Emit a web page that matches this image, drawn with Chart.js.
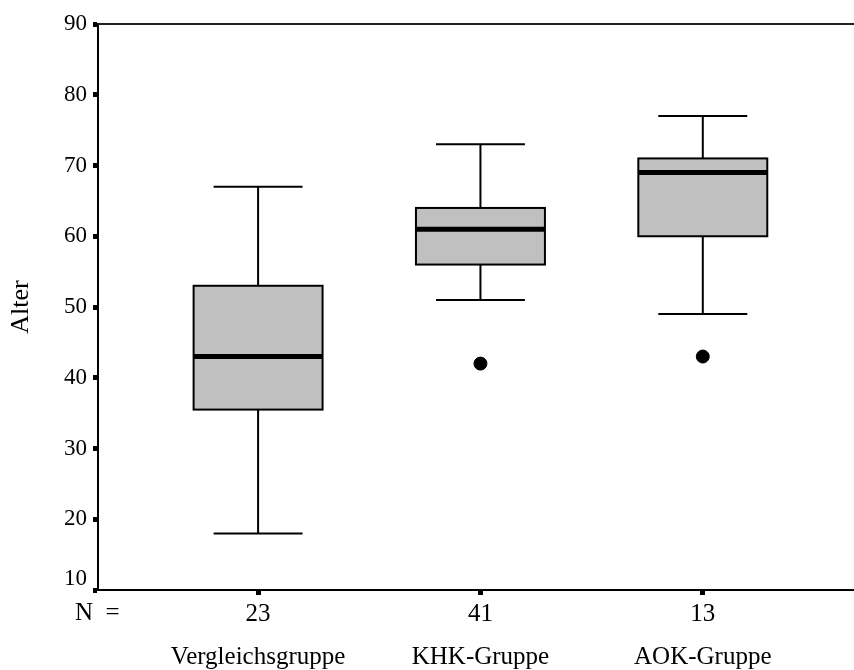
<!DOCTYPE html>
<html>
<head>
<meta charset="utf-8">
<script src="https://cdn.jsdelivr.net/npm/chart.js@4.4.1/dist/chart.umd.min.js"></script>
<style>
  html, body { margin: 0; padding: 0; background: #fff; overflow: hidden; }
  canvas { display: block; }
</style>
</head>
<body>
<canvas id="c" width="854" height="670"></canvas>
<script>
// data
const categories = ["Vergleichsgruppe", "KHK-Gruppe", "AOK-Gruppe"];
const nValues = ["23", "41", "13"];
const whiskerLow = [18, 51, 49];
const q1 = [35.5, 56, 60];
const median = [43, 61, 69];
const q3 = [53, 64, 71];
const whiskerHigh = [67, 73, 77];
const outliers = [{ x: 1, y: 42 }, { x: 2, y: 43 }];
const yTicks = [10, 20, 30, 40, 50, 60, 70, 80, 90];

const serif = "'Liberation Serif', 'Times New Roman', serif";

// box + whisker drawing (uses scales)
const boxPlugin = {
  id: "boxes",
  beforeDatasetsDraw(chart) {
    const ctx = chart.ctx;
    const x = chart.scales.x, y = chart.scales.y;
    const area = chart.chartArea;
    ctx.save();
    ctx.strokeStyle = "#000";
    categories.forEach((c, i) => {
      const cx = x.getPixelForValue(i);
      const bl = x.getPixelForValue(i - 0.29), br = x.getPixelForValue(i + 0.29);
      const wl = x.getPixelForValue(i - 0.2), wr = x.getPixelForValue(i + 0.2);
      const yq1 = y.getPixelForValue(q1[i]), yq3 = y.getPixelForValue(q3[i]);
      const ymed = y.getPixelForValue(median[i]);
      const ylo = y.getPixelForValue(whiskerLow[i]), yhi = y.getPixelForValue(whiskerHigh[i]);
      ctx.lineWidth = 2;
      ctx.beginPath();
      ctx.moveTo(cx, yhi); ctx.lineTo(cx, yq3);
      ctx.moveTo(cx, yq1); ctx.lineTo(cx, ylo);
      ctx.moveTo(wl, yhi); ctx.lineTo(wr, yhi);
      ctx.moveTo(wl, ylo); ctx.lineTo(wr, ylo);
      ctx.stroke();
      ctx.fillStyle = "#c0c0c0";
      ctx.fillRect(bl, yq3, br - bl, yq1 - yq3);
      ctx.strokeRect(bl, yq3, br - bl, yq1 - yq3);
      ctx.lineWidth = 5;
      ctx.beginPath();
      ctx.moveTo(bl, ymed); ctx.lineTo(br, ymed);
      ctx.stroke();
    });
    // top frame line
    ctx.lineWidth = 2;
    ctx.strokeStyle = "#222";
    ctx.beginPath();
    ctx.moveTo(area.left, area.top);
    ctx.lineTo(area.right, area.top);
    ctx.stroke();
    ctx.fillStyle = "#000";
    ctx.textBaseline = "middle";
    // lowest y label sits a bit above its tick, like the original
    ctx.font = "23px " + serif;
    ctx.textAlign = "right";
    ctx.fillText(String(yTicks[0]), area.left - 11, y.getPixelForValue(yTicks[0]) - 11);
    // "N =" label
    ctx.font = "25px " + serif;
    ctx.textAlign = "left";
    ctx.fillText("N  =", area.left - 23, area.bottom + 23);
    ctx.restore();
  }
};

new Chart(document.getElementById("c"), {
  type: "scatter",
  data: {
    datasets: [{
      data: outliers,
      pointRadius: 6.5,
      pointHoverRadius: 6.5,
      backgroundColor: "#000",
      borderColor: "#000"
    }]
  },
  options: {
    responsive: false,
    animation: false,
    events: [],
    layout: { autoPadding: false, padding: { top: 24, right: 0, left: 0, bottom: 0 } },
    plugins: { legend: { display: false }, tooltip: { enabled: false } },
    scales: {
      x: {
        type: "linear",
        min: -0.72,
        max: 2.68,
        afterBuildTicks: s => { s.ticks = categories.map((c, i) => ({ value: i })); },
        afterFit: s => { s.height = 80; s.paddingLeft = 0; s.paddingRight = 0; },
        grid: { drawOnChartArea: false, tickLength: 5, tickWidth: 5, tickColor: "#000" },
        border: { display: true, color: "#000", width: 2 },
        ticks: {
          color: "#000",
          font: { family: serif, size: 25, lineHeight: 1.72 },
          padding: -2,
          maxRotation: 0,
          callback: v => [nValues[v], categories[v]]
        }
      },
      y: {
        min: 10,
        max: 90,
        afterBuildTicks: s => { s.ticks = yTicks.map(v => ({ value: v })); },
        afterFit: s => { s.width = 98; s.paddingTop = 0; s.paddingBottom = 0; },
        grid: { drawOnChartArea: false, tickLength: 5, tickWidth: 5, tickColor: "#000" },
        border: { display: true, color: "#000", width: 2 },
        title: { display: true, text: "Alter", color: "#000", font: { family: serif, size: 26 }, padding: { top: 6, bottom: 0 } },
        ticks: {
          color: "#000",
          font: { family: serif, size: 23 },
          padding: 6,
          callback: v => (v === yTicks[0] ? "" : String(v))
        }
      }
    }
  },
  plugins: [boxPlugin]
});
</script>
</body>
</html>
